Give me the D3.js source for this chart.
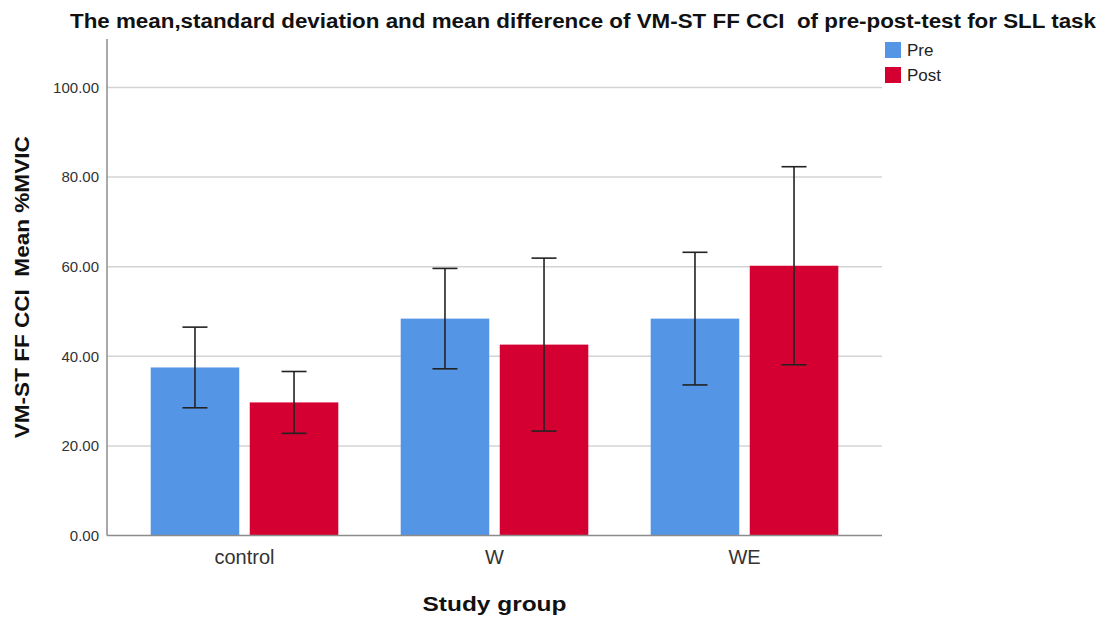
<!DOCTYPE html>
<html>
<head>
<meta charset="utf-8">
<script src="https://d3js.org/d3.v7.min.js"></script>
<style>
  body { margin: 0; background: #fff; }
  text { font-family: "Liberation Sans", Arial, sans-serif; white-space: pre; }
</style>
</head>
<body>
<script>
// chart size
var w = 1102, h = 621;

// data
var groups = ["control", "W", "WE"];
var series = ["Pre", "Post"];
var preMean = [37.5, 48.4, 48.4];
var preSD = [9.0, 11.2, 14.8];
var postMean = [29.7, 42.6, 60.2];
var postSD = [6.9, 19.3, 22.1];
var yTicks = [0, 20, 40, 60, 80, 100];

var colors = { Pre: "#5595e5", Post: "#d50032" };

// build rows from the arrays
var rows = [];
groups.forEach(function(g, i){
    rows.push({ group: g, series: "Pre", mean: preMean[i], sd: preSD[i] });
    rows.push({ group: g, series: "Post", mean: postMean[i], sd: postSD[i] });
});

var svg = d3.select("body")
    .append("svg")
    .attr("width", w)
    .attr("height", h);

// plot box (window.top is reserved, so use other names)
var plotL = 107, plotR = 882, plotT = 39, plotB = 535.5;

var x0 = d3.scaleBand()
    .domain(groups)
    .range([plotL, plotR])
    .paddingInner(0)
    .paddingOuter(0.05);

var x1 = d3.scaleBand()
    .domain(series)
    .range([31.2, x0.bandwidth() - 31.2])
    .paddingInner(0.106);

var y = d3.scaleLinear()
    .domain([0, 110.8])
    .range([plotB, plotT]);

// gridlines
svg.append("g")
    .selectAll("line")
    .data(yTicks.filter(function(d){ return d > 0; }))
    .enter()
    .append("line")
    .attr("x1", plotL)
    .attr("x2", plotR)
    .attr("y1", function(d){ return y(d); })
    .attr("y2", function(d){ return y(d); })
    .style("stroke", "#d4d4d4")
    .style("stroke-width", 1.5);

// y axis
var yAxis = d3.axisLeft(y)
    .tickValues(yTicks)
    .tickSize(0)
    .tickPadding(8)
    .tickFormat(d3.format(".2f"));

var yg = svg.append("g")
    .attr("transform", "translate(" + plotL + ",0)")
    .call(yAxis);
yg.select(".domain").remove();
yg.selectAll("text")
    .style("font-size", "15px")
    .style("fill", "#333");

// bars
svg.append("g")
    .selectAll("rect")
    .data(rows)
    .enter()
    .append("rect")
    .attr("x", function(d){ return x0(d.group) + x1(d.series); })
    .attr("y", function(d){ return y(d.mean); })
    .attr("width", x1.bandwidth())
    .attr("height", function(d){ return y(0) - y(d.mean); })
    .style("fill", function(d){ return colors[d.series]; });

// axis lines
svg.append("line")
    .attr("x1", plotL).attr("x2", plotL)
    .attr("y1", plotT).attr("y2", plotB)
    .style("stroke", "#8c8c8c")
    .style("stroke-width", 1.5);

svg.append("line")
    .attr("x1", plotL).attr("x2", plotR)
    .attr("y1", plotB).attr("y2", plotB)
    .style("stroke", "#8c8c8c")
    .style("stroke-width", 1.5);

// error bars
var err = svg.append("g")
    .selectAll("g")
    .data(rows)
    .enter()
    .append("g")
    .attr("transform", function(d){
        return "translate(" + (x0(d.group) + x1(d.series) + x1.bandwidth() / 2) + ",0)";
    });

err.append("line")
    .attr("x1", 0).attr("x2", 0)
    .attr("y1", function(d){ return y(d.mean + d.sd); })
    .attr("y2", function(d){ return y(d.mean - d.sd); })
    .style("stroke", "#222")
    .style("stroke-width", 1.6);

[1, -1].forEach(function(s){
    err.append("line")
        .attr("x1", -12.5).attr("x2", 12.5)
        .attr("y1", function(d){ return y(d.mean + s * d.sd); })
        .attr("y2", function(d){ return y(d.mean + s * d.sd); })
        .style("stroke", "#222")
        .style("stroke-width", 1.6);
});

// x labels
var xAxis = d3.axisBottom(x0).tickSize(0).tickPadding(14);
var xg = svg.append("g")
    .attr("transform", "translate(0," + plotB + ")")
    .call(xAxis);
xg.select(".domain").remove();
xg.selectAll("text")
    .style("font-size", "20px")
    .style("fill", "#333");

// axis titles
svg.append("text")
    .attr("x", (plotL + plotR) / 2)
    .attr("y", 611)
    .attr("text-anchor", "middle")
    .attr("textLength", 144)
    .attr("lengthAdjust", "spacingAndGlyphs")
    .style("font-size", "21px")
    .style("font-weight", "bold")
    .style("fill", "#111")
    .text("Study group");

svg.append("text")
    .attr("transform", "translate(29," + ((plotT + plotB) / 2) + ") rotate(-90)")
    .attr("text-anchor", "middle")
    .attr("textLength", 302)
    .attr("lengthAdjust", "spacingAndGlyphs")
    .style("font-size", "21px")
    .style("font-weight", "bold")
    .style("fill", "#111")
    .text("VM-ST FF CCI  Mean %MVIC");

// title
svg.append("text")
    .attr("x", 583)
    .attr("y", 28)
    .attr("text-anchor", "middle")
    .attr("textLength", 1026)
    .attr("lengthAdjust", "spacingAndGlyphs")
    .style("font-size", "20px")
    .style("font-weight", "bold")
    .style("fill", "#111")
    .text("The mean,standard deviation and mean difference of VM-ST FF CCI  of pre-post-test for SLL task");

// legend
var legend = svg.append("g")
    .selectAll("g")
    .data(series)
    .enter()
    .append("g")
    .attr("transform", function(d, i){ return "translate(885," + (42 + i * 25) + ")"; });

legend.append("rect")
    .attr("width", 16)
    .attr("height", 16)
    .style("fill", function(d){ return colors[d]; });

legend.append("text")
    .attr("x", 22)
    .attr("y", 14)
    .style("font-size", "17px")
    .style("fill", "#222")
    .text(function(d){ return d; });
</script>
</body>
</html>
